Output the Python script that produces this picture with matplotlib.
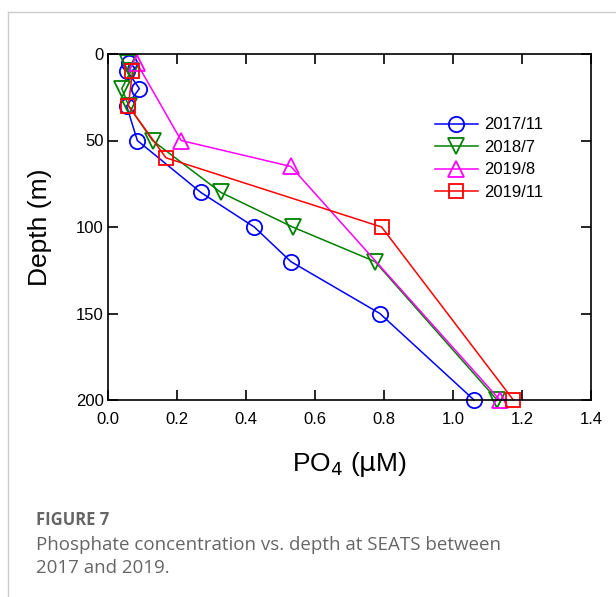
import matplotlib.pyplot as plt
from matplotlib.lines import Line2D

plt.rcParams['font.family'] = ['Liberation Sans', 'DejaVu Sans']

# donnees
depth_2017_11 = [5, 10, 20, 30, 50, 80, 100, 120, 150, 200]
po4_2017_11 = [0.062, 0.056, 0.091, 0.054, 0.085, 0.269, 0.424, 0.530, 0.788, 1.061]

depth_2018_7 = [5, 10, 20, 30, 50, 80, 100, 120, 200]
po4_2018_7 = [0.059, 0.066, 0.040, 0.060, 0.129, 0.327, 0.535, 0.774, 1.128]

depth_2019_8 = [5, 50, 65, 200]
po4_2019_8 = [0.083, 0.212, 0.530, 1.136]

depth_2019_11 = [10, 30, 60, 100, 200]
po4_2019_11 = [0.071, 0.059, 0.168, 0.793, 1.175]

labels = ["2017/11", "2018/7", "2019/8", "2019/11"]
x_ticks = [0.0, 0.2, 0.4, 0.6, 0.8, 1.0, 1.2, 1.4]
y_ticks = [0, 50, 100, 150, 200]

fig = plt.figure(figsize=(6.16, 5.97), dpi=100)
ax = fig.add_axes([108 / 616, 1 - 400 / 597, 483 / 616, 346 / 597])

series = [
    (po4_2017_11, depth_2017_11, "blue", "o", 11),
    (po4_2018_7, depth_2018_7, "green", "v", 11),
    (po4_2019_8, depth_2019_8, "magenta", "^", 11),
    (po4_2019_11, depth_2019_11, "red", "s", 10),
]

handles = []
for (x, y, c, m, ms), lab in zip(series, labels):
    h, = ax.plot(x, y, color=c, marker=m, markersize=ms, markerfacecolor="none",
                 markeredgecolor=c, markeredgewidth=1.3, linewidth=1.1,
                 label=lab, clip_on=False)
    handles.append(h)

ax.set_xlim(0, 1.4)
ax.set_ylim(200, 0)
ax.set_xticks(x_ticks)
ax.set_xticklabels([f"{v:.1f}" for v in x_ticks])
ax.set_yticks(y_ticks)
ax.tick_params(direction="in", top=True, right=True, length=7, width=1.2,
               labelsize=12)
ax.tick_params(axis="x", pad=9)
ax.tick_params(axis="y", pad=3)
for s in ax.spines.values():
    s.set_linewidth(1.2)

ax.set_xlabel(r"PO$_4$ ($\mathrm{\mu}$M)", fontsize=19, labelpad=16)
ax.set_ylabel("Depth (m)", fontsize=19, labelpad=17)

ax.legend(handles=handles, loc="upper left", bbox_to_anchor=(0.645, 0.86),
          frameon=False, fontsize=12, handlelength=2.6, labelspacing=0.45,
          handletextpad=0.35)

# cadre gris de la page
fig.add_artist(Line2D([8 / 616, 1], [1 - 12 / 597, 1 - 12 / 597], color="#cccccc", linewidth=1))
fig.add_artist(Line2D([8 / 616, 8 / 616], [0, 1 - 12 / 597], color="#cccccc", linewidth=1))

# legende de la figure
fig.text(36 / 616, 1 - 520 / 597, "FIGURE 7", fontsize=12, fontweight="bold",
         color="#666666", family=["Open Sans", "DejaVu Sans"], va="center")
fig.text(36 / 616, 1 - 545 / 597, "Phosphate concentration vs. depth at SEATS between",
         fontsize=13.5, color="#666666", family=["Open Sans", "DejaVu Sans"], va="center")
fig.text(36 / 616, 1 - 568 / 597, "2017 and 2019.", fontsize=13.5, color="#666666",
         family=["Open Sans", "DejaVu Sans"], va="center")

fig.savefig("out.png", dpi=100)
